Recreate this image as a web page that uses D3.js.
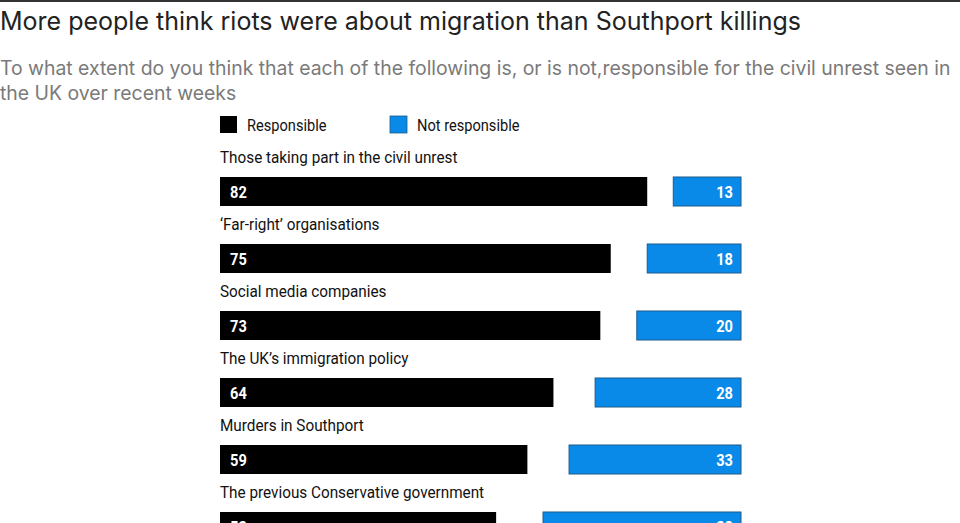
<!DOCTYPE html>
<html>
<head>
<meta charset="utf-8">
<script src="https://cdn.jsdelivr.net/npm/d3@7"></script>
<style>
body{margin:0;background:#fff;overflow:hidden}
.title{font-family:Inter,"Open Sans",sans-serif;font-size:25px;fill:#222}
.sub{font-family:Inter,"Open Sans",sans-serif;font-size:19.4px;fill:#7a7a7a}
.cond{font-family:Roboto,sans-serif}
</style>
</head>
<body>
<svg id="chart"></svg>
<script>
var categories = ["Those taking part in the civil unrest","\u2018Far-right\u2019 organisations","Social media companies","The UK\u2019s immigration policy","Murders in Southport","The previous Conservative government"]
var responsible = [82,75,73,64,59,53]
var notResponsible = [13,18,20,28,33,38]
var seriesNames = ["Responsible","Not responsible"]
var colors = ["#000000","#0a8ae8"]

var screen = {width:960,height:523}
var svg = d3.select("#chart").attr("width",screen.width).attr("height",screen.height)

svg.append("rect").attr("x",0).attr("y",0).attr("width",screen.width).attr("height",2).attr("fill","#333")

svg.append("text").classed("title",true).attr("x",0).attr("y",30)
    .text("More people think riots were about migration than Southport killings")
svg.append("text").classed("sub",true).attr("x",0).attr("y",75)
    .text("To what extent do you think that each of the following is, or is not,responsible for the civil unrest seen in")
svg.append("text").classed("sub",true).attr("x",0).attr("y",100)
    .text("the UK over recent weeks")

//condensed text helper
var condText = function(sel,x,y,squeeze)
{
    return sel.append("text").classed("cond",true)
        .attr("transform","translate("+x+","+y+") scale("+squeeze+",1)")
}

//legend
var legend = svg.append("g")
var lx = [220,390]
seriesNames.forEach(function(name,i)
{
    legend.append("rect").attr("x",lx[i]).attr("y",116).attr("width",17).attr("height",17)
        .attr("fill",colors[i]).attr("stroke",i==1?"#1c5a8a":"none").attr("stroke-width",0.8)
    condText(legend,lx[i]+27,131,0.86)
        .attr("font-size",17).attr("fill","#111").text(name)
})

var xScale = d3.scaleLinear().domain([0,100]).range([220,741])
var yScale = d3.scaleBand().domain(categories).range([144,546]).paddingInner(0).paddingOuter(0)
var barH = 29

var rows = svg.append("g").selectAll("g")
    .data(categories)
    .enter()
    .append("g")
    .attr("transform",function(d){ return "translate(0,"+yScale(d)+")"; })

rows.each(function(d,i)
{
    var row = d3.select(this)
    condText(row,220,19,0.9).attr("font-size",17).attr("fill","#111").text(d)

    row.append("rect")
        .attr("x",xScale(0))
        .attr("y",33)
        .attr("width",xScale(responsible[i])-xScale(0))
        .attr("height",barH)
        .attr("fill",colors[0])

    row.append("rect")
        .attr("x",xScale(100-notResponsible[i]))
        .attr("y",33)
        .attr("width",xScale(100)-xScale(100-notResponsible[i]))
        .attr("height",barH)
        .attr("fill",colors[1])
        .attr("stroke","#1c5a8a").attr("stroke-width",1)

    condText(row,xScale(0)+10,33+barH/2+6,0.86)
        .attr("font-size",17).attr("font-weight","bold").attr("fill","#fff")
        .text(responsible[i])

    condText(row,xScale(100)-8,33+barH/2+6,0.86)
        .attr("text-anchor","end")
        .attr("font-size",17).attr("font-weight","bold").attr("fill","#fff")
        .text(notResponsible[i])
})
</script>
</body>
</html>
